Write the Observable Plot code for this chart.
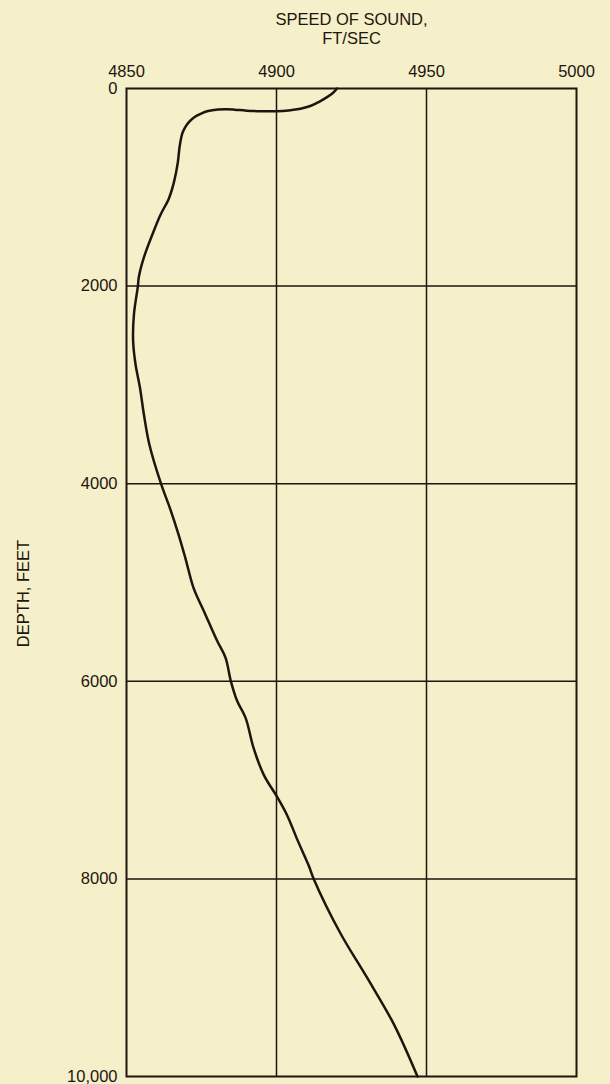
<!DOCTYPE html>
<html><head><meta charset="utf-8">
<script src="https://cdn.jsdelivr.net/npm/d3@7"></script>
<script src="https://cdn.jsdelivr.net/npm/@observablehq/plot@0.6"></script>
<style>html,body{margin:0;padding:0;background:#f5efca;}</style>
</head><body><div id="chart"></div>
<script>
const depthFt = [0, 45, 90, 135, 175, 205, 222, 230, 230, 224, 214, 210, 213, 228, 256, 290, 340, 400, 455, 590, 750, 950, 1115, 1280, 1480, 1710, 1910, 2000, 2280, 2550, 2790, 3030, 3300, 3600, 4000, 4250, 4500, 4750, 5060, 5290, 5590, 5760, 6000, 6200, 6370, 6680, 6950, 7170, 7360, 7600, 7870, 8000, 8550, 9000, 9470, 10000];
const speedFtSec = [4920.2, 4918.8, 4916.7, 4914.2, 4911.5, 4908, 4904, 4900, 4895, 4890, 4886, 4883.5, 4880.5, 4877.2, 4874.7, 4872.6, 4870.8, 4869.4, 4868.6, 4867.7, 4867.1, 4865.8, 4864.1, 4861.3, 4858.6, 4855.8, 4854.1, 4853.8, 4852.5, 4852.2, 4853.0, 4854.5, 4855.8, 4857.6, 4861.5, 4864.5, 4867.2, 4869.6, 4872.4, 4875.8, 4880.2, 4883, 4884.8, 4886.9, 4889.7, 4892.4, 4895.8, 4900.2, 4903.6, 4906.9, 4910.8, 4912.4, 4921.3, 4930.2, 4939.1, 4947];
const xTicks = [4850, 4900, 4950, 5000];
const yTicks = [0, 2000, 4000, 6000, 8000, 10000];
const yTickLabels = ["0", "2000", "4000", "6000", "8000", "10,000"];
const xGrid = [4900, 4950];
const yGrid = [2000, 4000, 6000, 8000];
const titleText = "SPEED OF SOUND,\nFT/SEC";
const yLabel = "DEPTH, FEET";

const profile = depthFt.map((d, i) => ({depth: d, speed: speedFtSec[i]}));
const ink = "#1c160e";
const chart = Plot.plot({
  width: 610, height: 1084,
  marginLeft: 126, marginRight: 34, marginTop: 88, marginBottom: 8,
  style: {background: "#f5efca", fontFamily: "'Liberation Sans', Arial, sans-serif", fontSize: "16.5px", color: ink},
  x: {domain: [4850, 5000]},
  y: {domain: [0, 10000], reverse: true},
  marks: [
    Plot.ruleX(xGrid, {stroke: ink, strokeWidth: 1.5}),
    Plot.ruleY(yGrid, {stroke: ink, strokeWidth: 1.5}),
    Plot.frame({stroke: ink, strokeWidth: 2}),
    Plot.axisX({anchor: "top", ticks: xTicks, tickSize: 0, tickPadding: 12, label: null, tickFormat: d => String(d)}),
    Plot.axisY({anchor: "left", ticks: yTicks, tickSize: 0, tickPadding: 9, label: null, tickFormat: d => yTickLabels[yTicks.indexOf(d)]}),
    Plot.line(profile, {x: "speed", y: "depth", curve: "catmull-rom", stroke: ink, strokeWidth: 2.5}),
    Plot.text([titleText], {frameAnchor: "top", lineAnchor: "bottom", dy: -44.7, lineHeight: 1.11, fill: ink}),
    Plot.text([yLabel], {frameAnchor: "left", textAnchor: "middle", rotate: -90, dx: -103, dy: 11, fill: ink})
  ]
});
document.getElementById("chart").appendChild(chart);
</script>
</body></html>
